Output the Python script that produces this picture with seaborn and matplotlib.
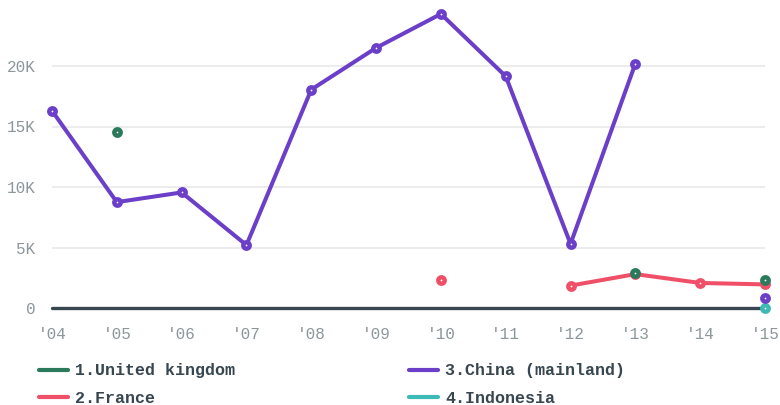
import numpy as np
import pandas as pd
import matplotlib
matplotlib.use("Agg")
import matplotlib.pyplot as plt
from matplotlib.lines import Line2D
import seaborn as sns

# data (values in thousands)
years = list(range(2004, 2016))
year_labels = ["'04", "'05", "'06", "'07", "'08", "'09", "'10", "'11", "'12", "'13", "'14", "'15"]
nan = np.nan
uk = [nan, 14.55, nan, nan, nan, nan, nan, nan, nan, 2.9, nan, 2.3]
france = [nan, nan, nan, nan, nan, nan, 2.3, nan, 1.85, 2.8, 2.07, 1.95]
china = [16.3, 8.75, 9.55, 5.2, 18.05, 21.5, 24.3, 19.15, 5.3, 20.2, nan, 0.8]
indonesia = [nan, nan, nan, nan, nan, nan, nan, nan, nan, nan, nan, 0.02]

names = ["1.United kingdom", "2.France", "3.China (mainland)", "4.Indonesia"]
series = [uk, france, china, indonesia]
colors = ["#2b7a5c", "#ef5068", "#6b3fc8", "#3dbab5"]
layer = {names[0]: 6, names[1]: 5, names[2]: 4, names[3]: 3}

# long-form table, with a segment id so gaps stay gaps
rows = []
for name, vals in zip(names, series):
    seg = 0
    prev_nan = True
    for yr, v in zip(years, vals):
        if np.isnan(v):
            prev_nan = True
            continue
        if prev_nan:
            seg += 1
        prev_nan = False
        rows.append({"year": yr, "value": v, "country": name, "seg": f"{name}-{seg}"})
df = pd.DataFrame(rows)

sns.set_style("white")
plt.rcParams["font.family"] = ["Liberation Mono", "DejaVu Sans Mono"]

fig = plt.figure(figsize=(7.8, 4.05), dpi=100)
ax = fig.add_axes([52 / 780, 97 / 405, 713 / 780, 303 / 405])

for y in [5, 10, 15, 20]:
    ax.axhline(y, color="#ececec", lw=1.4, zorder=0)
zero = ax.axhline(0, color="#37464f", lw=2.4, zorder=1)
zero.set_clip_on(False)

for name, col in zip(names, colors):
    sub = df[df["country"] == name]
    start = len(ax.lines)
    sns.lineplot(data=sub, x="year", y="value", units="seg", estimator=None,
                 color=col, marker="o", lw=2.9, ax=ax, legend=False, sort=True)
    for ln in ax.lines[start:]:
        ln.set_markerfacecolor("white")
        ln.set_markeredgecolor(col)
        ln.set_markersize(4.6)
        ln.set_markeredgewidth(3.2)
        ln.set_clip_on(False)
        ln.set_zorder(layer[name])

ax.set_xlim(2004, 2015)
ax.set_ylim(0, 303 / 12.1)
ax.set_xticks(years)
ax.set_xticklabels(year_labels)
ax.set_yticks([0, 5, 10, 15, 20])
ax.set_yticklabels(["0", "5K", "10K", "15K", "20K"])
ax.tick_params(axis="both", length=0, colors="#8c969b", labelsize=11.5)
ax.tick_params(axis="x", pad=14)
ax.tick_params(axis="y", pad=12)
ax.set_xlabel("")
ax.set_ylabel("")
sns.despine(ax=ax, left=True, bottom=True, top=True, right=True)

handles = [Line2D([], [], color=c, lw=3.0) for c in colors]
leg = fig.legend(handles, names, ncol=2, loc="upper left",
                 bbox_to_anchor=(26 / 780, 1 - 350 / 405), frameon=False,
                 handlelength=1.7, handletextpad=0.45, columnspacing=10.45,
                 labelspacing=0.75, borderpad=0.3,
                 prop={"size": 12, "weight": "bold"})
for t in leg.get_texts():
    t.set_color("#37464f")

fig.savefig("out.png", dpi=100)
